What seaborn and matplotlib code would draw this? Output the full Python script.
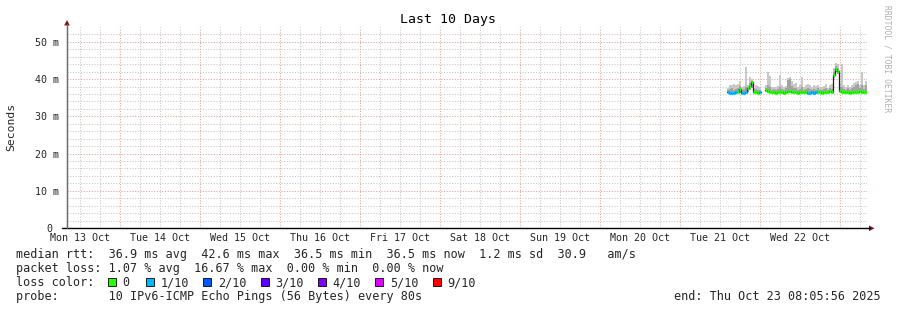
import numpy as np
import pandas as pd
import matplotlib
matplotlib.use("Agg")
import matplotlib.pyplot as plt
from matplotlib.patches import Rectangle, Polygon
from matplotlib.lines import Line2D
import seaborn as sns

# ---------------- data ----------------
title = "Last 10 Days"
y_label = "Seconds"
watermark = "RRDTOOL / TOBI OETIKER"
x_start = "2025-10-13 08:05:56"
x_end = "2025-10-23 08:05:56"
day_labels = ["Mon 13 Oct", "Tue 14 Oct", "Wed 15 Oct", "Thu 16 Oct", "Fri 17 Oct",
              "Sat 18 Oct", "Sun 19 Oct", "Mon 20 Oct", "Tue 21 Oct", "Wed 22 Oct"]
day_dates = ["2025-10-13", "2025-10-14", "2025-10-15", "2025-10-16", "2025-10-17",
             "2025-10-18", "2025-10-19", "2025-10-20", "2025-10-21", "2025-10-22"]
y_ticks = [0, 10, 20, 30, 40, 50]
y_tick_labels = ["0 ", "10 m", "20 m", "30 m", "40 m", "50 m"]

sample_step = "36min"
seg1_start = "2025-10-21 14:06"
seg2_start = "2025-10-22 01:30"

# values in ms
median_1 = [36.5, 36.4, 36.4, 36.4, 36.5, 36.6, 37.4, 36.4, 36.4, 36.5, 37.6, 38.2, 39.3,
            36.5, 36.5, 36.4, 36.5]
loss_1 = [1, 1, 1, 1, 1, 0, 0, 1, 1, 1, 0, 0, 0, 0, 0, 0, 1]
smoke_hi_1 = [37.5, 38.5, 38.3, 38.6, 38.4, 38.6, 39.5, 38.0, 38.2, 43.3, 38.5, 40.6, 40.0,
              37.5, 38.3, 38.2, 37.8]
smoke_mid_1 = [37.0, 37.3, 37.5, 37.2, 37.4, 37.6, 38.2, 37.2, 37.3, 38.0, 37.9, 39.0, 39.6,
               37.0, 37.4, 37.2, 37.0]
smoke_lo_1 = [36.2, 36.1, 36.1, 36.2, 36.2, 36.3, 36.4, 36.1, 36.2, 36.2, 36.5, 37.0, 37.6,
              36.2, 36.2, 36.1, 36.2]

median_2 = [37.0, 36.9, 36.6, 36.5, 36.5, 36.4, 36.5, 36.6, 36.5, 36.4, 36.6, 36.8, 36.7,
            36.5, 36.6, 36.5, 36.4, 36.5, 36.6, 36.5, 36.5, 36.4, 36.4, 36.5, 36.4, 36.5,
            36.6, 36.5, 36.4, 36.6, 36.5, 36.5, 36.7, 36.6, 41.1, 42.6, 42.1, 36.8, 36.6,
            36.5, 36.5, 36.6, 36.4, 36.5, 36.5, 36.6, 36.5, 36.7, 36.5, 36.6, 36.5]
loss_2 = [0, 0, 0, 0, 0, 0, 0, 0, 0, 0, 0, 0, 0, 0, 0, 0, 0, 0, 0, 0, 0, 1, 1, 1, 1, 1,
          0, 0, 0, 0, 0, 0, 0, 0, 0, 0, 0, 0, 0, 0, 0, 0, 0, 0, 0, 0, 0, 0, 0, 0, 0]
smoke_hi_2 = [38.5, 42.0, 40.8, 37.8, 38.0, 37.8, 38.2, 41.1, 38.5, 37.9, 38.2, 40.3, 40.5,
              39.4, 38.6, 38.9, 37.8, 38.4, 40.5, 38.0, 38.3, 38.7, 38.5, 37.9, 38.4, 38.1,
              38.5, 38.0, 37.8, 38.2, 38.6, 37.6, 38.4, 38.6, 43.0, 44.2, 44.0, 39.0, 44.0,
              38.3, 38.0, 38.5, 38.0, 38.4, 38.9, 39.2, 39.6, 38.5, 42.0, 38.4, 39.6]
smoke_mid_2 = [37.6, 38.5, 37.8, 37.2, 37.3, 37.1, 37.4, 38.0, 37.3, 37.1, 37.5, 39.8, 40.0,
               38.2, 37.6, 37.7, 37.1, 37.4, 38.0, 37.2, 37.3, 37.5, 37.4, 37.2, 37.4, 37.2,
               37.5, 37.2, 37.1, 37.3, 37.6, 37.0, 37.5, 37.4, 42.0, 43.5, 43.0, 37.8, 37.8,
               37.3, 37.2, 37.5, 37.2, 37.6, 37.9, 38.3, 38.6, 37.5, 38.5, 37.4, 38.4]
smoke_lo_2 = [36.5, 36.4, 36.3, 36.2, 36.2, 36.1, 36.2, 36.3, 36.2, 36.1, 36.3, 36.5, 36.4,
              36.2, 36.3, 36.2, 36.1, 36.2, 36.3, 36.2, 36.2, 36.1, 36.1, 36.2, 36.1, 36.2,
              36.3, 36.2, 36.1, 36.3, 36.2, 36.2, 36.4, 36.3, 40.2, 41.8, 41.3, 36.5, 36.3,
              36.2, 36.2, 36.3, 36.1, 36.2, 36.2, 36.3, 36.2, 36.4, 36.2, 36.3, 36.2]

loss_labels = ["0", "1/10", "2/10", "3/10", "4/10", "5/10", "9/10"]
loss_colors = ["#26ff00", "#00b8ff", "#0059ff", "#5e00ff", "#7e00ff", "#dd00ff", "#ff0000"]

legend_line1 = "median rtt:  36.9 ms avg  42.6 ms max  36.5 ms min  36.5 ms now  1.2 ms sd  30.9   am/s"
legend_line2 = "packet loss: 1.07 % avg  16.67 % max  0.00 % min  0.00 % now"
legend_line3 = "loss color:"
legend_line4 = "probe:       10 IPv6-ICMP Echo Pings (56 Bytes) every 80s"
end_text = "end: Thu Oct 23 08:05:56 2025"

# ---------------- style ----------------
sns.set_style("white")
plt.rcParams['font.family'] = ['DejaVu Sans Mono', 'DejaVu Sans']

W, H = 897, 310
fig = plt.figure(figsize=(W / 100, H / 100), dpi=100)
fig.patch.set_facecolor("white")


def fx(x):
    return x / W


def fy(y):
    return 1 - y / H


ax = fig.add_axes([fx(66.5), fy(228), 800 / W, 201 / H])
ax.set_facecolor("white")
t0, t1 = pd.Timestamp(x_start), pd.Timestamp(x_end)
ax.set_xlim(t0, t1)
ax.set_ylim(0, 54)

# grid
minor_c = "#c6c6c6"
major_c = "#e4a0a0"
dot = (0, (1, 1.6))
for v in np.arange(2, 54, 2):
    if v % 10 == 0:
        continue
    ax.axhline(v, color=minor_c, lw=0.75, ls=dot, zorder=0)
for v in [10, 20, 30, 40, 50]:
    ax.axhline(v, color=major_c, lw=0.75, ls=dot, zorder=0.5)
for tt in pd.date_range("2025-10-13 12:00", "2025-10-23 06:00", freq="6h"):
    if tt.hour == 0:
        continue
    ax.axvline(tt, color=minor_c, lw=0.75, ls=dot, zorder=0)
for tt in pd.date_range("2025-10-14", "2025-10-23", freq="1D"):
    ax.axvline(tt, color=major_c, lw=0.75, ls=dot, zorder=0.5)

# ---------------- series ----------------
segments = [
    (seg1_start, median_1, loss_1, smoke_lo_1, smoke_mid_1, smoke_hi_1),
    (seg2_start, median_2, loss_2, smoke_lo_2, smoke_mid_2, smoke_hi_2),
]
rows = []
for si, (start, med, loss, lo, mid, hi) in enumerate(segments):
    n = len(med)
    edges = pd.date_range(start, periods=n + 1, freq=sample_step)
    med_e = list(med) + [med[-1]]
    lo_e = list(lo) + [lo[-1]]
    mid_e = list(mid) + [mid[-1]]
    hi_e = list(hi) + [hi[-1]]
    ax.fill_between(edges, lo_e, hi_e, step="post", color="#c8c8c8", lw=0, zorder=1)
    ax.fill_between(edges, lo_e, mid_e, step="post", color="#a2a2a2", lw=0, zorder=1.2)
    for tt, m in zip(edges, med_e):
        rows.append({"time": tt, "median": m, "segment": si})

df = pd.DataFrame(rows)
sns.lineplot(data=df, x="time", y="median", units="segment", estimator=None,
             color="#202020", lw=0.9, drawstyle="steps-post", ax=ax, zorder=2)

for start, med, loss, lo, mid, hi in segments:
    edges = pd.date_range(start, periods=len(med) + 1, freq=sample_step)
    ax.hlines(med, edges[:-1], edges[1:], colors=[loss_colors[l] for l in loss],
              lw=2.3, zorder=3, capstyle="butt")

ax.set_xlabel("")
ax.set_ylabel("")

# ticks
noons = [pd.Timestamp(d) + pd.Timedelta(hours=12) for d in day_dates]
ax.set_xticks(noons)
ax.set_xticklabels(day_labels, fontsize=7.2)
ax.tick_params(axis="x", length=0, pad=3.5)
ax.set_yticks(y_ticks)
ax.set_yticklabels(y_tick_labels, fontsize=7.2)
ax.tick_params(axis="y", length=3, width=0.8, color="#606060", pad=2.2, direction="out")

for s in ["top", "right", "bottom"]:
    ax.spines[s].set_visible(False)
ax.spines["left"].set_color("#6a6a6a")
ax.spines["left"].set_linewidth(0.9)

# x axis line with arrow, y axis arrow
fig.add_artist(Line2D([fx(62), fx(870)], [fy(228.3), fy(228.3)], color="black", lw=1.0))
fig.add_artist(Polygon([[fx(869), fy(225.5)], [fx(874.5), fy(228.3)], [fx(869), fy(231.1)]],
                       closed=True, color="#7a1010", lw=0))
fig.add_artist(Line2D([fx(67), fx(67)], [fy(228), fy(24)], color="#6a6a6a", lw=0.9))
fig.add_artist(Polygon([[fx(64.2), fy(25.5)], [fx(67), fy(20)], [fx(69.8), fy(25.5)]],
                       closed=True, color="#7a1010", lw=0))

# title, labels, watermark
fig.text(fx(448), fy(19), title, ha="center", va="center", fontsize=9.5, color="black")
fig.text(fx(11), fy(127), y_label, ha="center", va="center", rotation=90, fontsize=8.2)
fig.text(fx(887), fy(59), watermark, ha="center", va="center", rotation=270,
         fontsize=5.8, color="#b0b0b0")

# legend text
fs = 8.5
fig.text(fx(16), fy(254.5), legend_line1, ha="left", va="center", fontsize=fs)
fig.text(fx(16), fy(268.5), legend_line2, ha="left", va="center", fontsize=fs)
fig.text(fx(16), fy(282.5), legend_line3, ha="left", va="center", fontsize=fs)
fig.text(fx(16), fy(296.5), legend_line4, ha="left", va="center", fontsize=fs)
fig.text(fx(881), fy(296.5), end_text, ha="right", va="center", fontsize=fs)

box_x = 108.0
for i, (lab, col) in enumerate(zip(loss_labels, loss_colors)):
    fig.add_artist(Rectangle((fx(box_x), fy(286)), 8 / W, 8 / H, facecolor=col,
                             edgecolor="black", lw=0.6))
    fig.text(fx(box_x + 14.5), fy(282.5), lab, ha="left", va="center", fontsize=fs)
    box_x += 38.0 if i == 0 else 57.3

fig.savefig("out.png", dpi=100, facecolor="white")
